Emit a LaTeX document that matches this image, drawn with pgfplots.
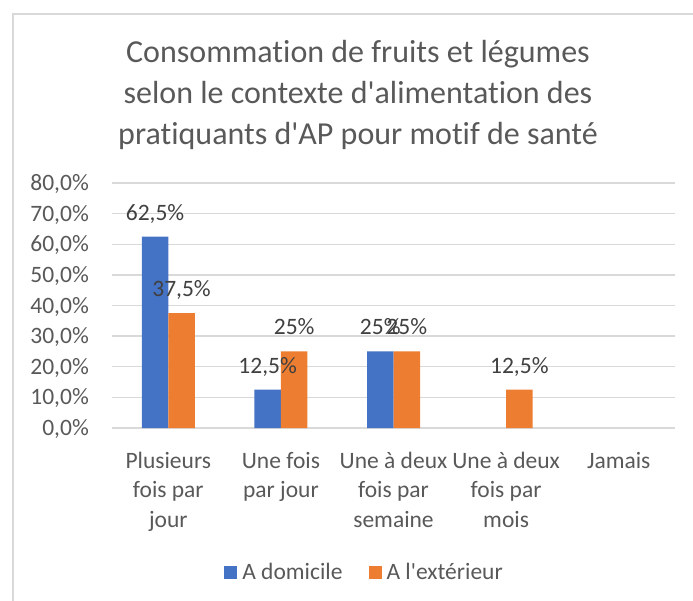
\documentclass[border=0pt]{standalone}
\usepackage{pgfplots}
\pgfplotsset{compat=1.18}
\usepackage{fontspec}
\setmainfont{Carlito}[Ligatures={TeXOff,NoCommon}]
\definecolor{cblue}{HTML}{4472C4}
\definecolor{corange}{HTML}{ED7D31}
\definecolor{ctext}{HTML}{595959}
\definecolor{cgrid}{HTML}{D9D9D9}
\definecolor{clabel}{HTML}{404040}
\begin{document}
\begin{tikzpicture}[x=1bp,y=1bp]
\path[use as bounding box] (0,0) rectangle (693,-601);
\draw[cgrid, line width=1.3bp] (13,-601) -- (13,-14) -- (693,-14);
\node[anchor=north, align=center, text=ctext, inner sep=0pt, font=\fontsize{32bp}{41bp}\selectfont] at (358,-33.3) {\strut Consommation de fruits et légumes\\selon le contexte d'alimentation des\\pratiquants d'AP pour motif de santé};
\begin{axis}[
  at={(112bp,-428bp)}, anchor=south west,
  scale only axis, width=563bp, height=245bp,
  xmin=-0.5, xmax=4.5, ymin=0, ymax=80,
  ybar=0pt, bar width=26.5bp,
  axis line style={draw=none}, major tick length=0pt,
  ymajorgrids, grid style={cgrid, line width=1.3bp},
  /pgf/number format/assume math mode=true,
  ytick={0,10,...,80},
  yticklabel={\pgfmathprintnumber[fixed,fixed zerofill,precision=1,use comma]{\tick}\%},
  xtick={0,1,2,3,4},
  xticklabels={{\strut Plusieurs\\fois par\\jour},{\strut Une fois\\par jour},{\strut Une à deux\\fois par\\semaine},{\strut Une à deux\\fois par\\mois},{\strut Jamais}},
  ticklabel style={font=\fontsize{23.5bp}{29.5bp}\selectfont, text=ctext},
  yticklabel style={anchor=base east, inner sep=0pt, xshift=-23bp, yshift=-7.5bp},
  xticklabel style={anchor=north, inner sep=0pt, yshift=-19.4bp, align=center},
  point meta=rawy,
  nodes near coords={\pgfmathprintnumber[use comma]{\pgfplotspointmeta}\%},
  every node near coord/.append style={anchor=base, yshift=16.5bp, inner sep=0pt, text=clabel, font=\fontsize{23.5bp}{29.5bp}\selectfont},
  legend columns=2,
  legend style={at={(0.4467,-0.588)}, anchor=center, draw=none, fill=none,
    font=\fontsize{23.5bp}{29.5bp}\selectfont, text=ctext,
    /tikz/every odd column/.append style={column sep=5bp},
    /tikz/every even column/.append style={column sep=26bp},
    nodes={inner sep=0pt}},
  legend image code/.code={\fill[#1,draw=none] (0bp,-6.5bp) rectangle (13bp,6.5bp);},
]
\addplot[fill=cblue, draw=none] coordinates {(0,62.5) (1,12.5) (2,25)};
\addplot[fill=corange, draw=none] coordinates {(0,37.5) (1,25) (2,25) (3,12.5)};
\legend{A domicile, A l'extérieur}
\end{axis}
\end{tikzpicture}
\end{document}
